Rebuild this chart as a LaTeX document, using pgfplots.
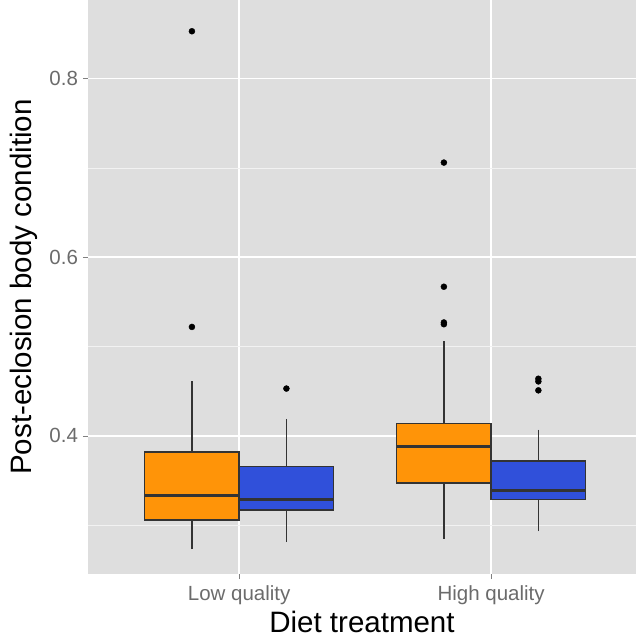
\documentclass[border=0pt]{standalone}
\usepackage{fontspec}
\setmainfont{Liberation Sans}
\usepackage{pgfplots}
\pgfplotsset{compat=1.18}
\usepgfplotslibrary{statistics}

\definecolor{panelbg}{HTML}{DEDEDE}
\definecolor{boxorange}{HTML}{FF9408}
\definecolor{boxblue}{HTML}{3050DA}
\definecolor{boxline}{HTML}{333333}
\definecolor{ticktext}{HTML}{6B6B6B}

\begin{document}
\begin{tikzpicture}
\begin{axis}[
  name=main,
  scale only axis,
  width=548pt, height=574pt,
  xmin=0.4, xmax=2.575,
  ymin=0.2454, ymax=0.888,
  axis background/.style={fill=panelbg},
  axis line style={draw=none},
  xtick={1,2}, xticklabels={Low quality, High quality},
  ytick={0.4,0.6,0.8},
  minor ytick={0.3,0.5,0.7},
  /pgf/number format/fixed,
  /pgf/number format/precision=1,
  /pgf/number format/assume math mode=true,
  tick label style={font=\fontsize{20.5}{24}\selectfont, text=ticktext},
  xticklabel style={anchor=base, yshift=-21.5pt},
  yticklabel style={xshift=-1.5pt},
  tick align=outside, tick pos=left,
  major tick length=5pt, minor tick length=0pt,
  tick style={color=gray, line width=0.8pt},
  grid=both,
  major grid style={white, line width=1.6pt},
  minor grid style={white!60!panelbg, line width=0.8pt},
  xlabel={Diet treatment},
  ylabel={Post-eclosion body condition},
  every axis x label/.style={at={([yshift=-58pt]axis description cs:0.5,0)},
    anchor=base, font=\fontsize{29.5}{34}\selectfont},
  every axis y label/.style={at={([xshift=-64pt]axis description cs:0,0.5)},
    anchor=center, rotate=90, font=\fontsize{29.5}{34}\selectfont},
  boxplot/draw direction=y,
  boxplot/box extend=0.375,
  boxplot/whisker extend=0,
  boxplot/every box/.style={draw=boxline, line width=1.5pt},
  boxplot/every whisker/.style={draw=boxline, line width=1.3pt},
  boxplot/every median/.style={draw=boxline, line width=2.9pt},
  clip=false,
]
% Low quality, orange
\addplot+[boxplot prepared={draw position=0.8125,
  lower whisker=0.273, lower quartile=0.306, median=0.333,
  upper quartile=0.382, upper whisker=0.461},
  fill=boxorange, draw=boxline, mark=*, mark size=3pt,
  mark options={fill=black, draw=black}]
  coordinates {(0,0.522) (0,0.853)};
% Low quality, blue
\addplot+[boxplot prepared={draw position=1.1875,
  lower whisker=0.281, lower quartile=0.317, median=0.329,
  upper quartile=0.366, upper whisker=0.419},
  fill=boxblue, draw=boxline, mark=*, mark size=3pt,
  mark options={fill=black, draw=black}]
  coordinates {(0,0.453)};
% High quality, orange
\addplot+[boxplot prepared={draw position=1.8125,
  lower whisker=0.285, lower quartile=0.347, median=0.388,
  upper quartile=0.414, upper whisker=0.506},
  fill=boxorange, draw=boxline, mark=*, mark size=3pt,
  mark options={fill=black, draw=black}]
  coordinates {(0,0.525) (0,0.527) (0,0.567) (0,0.706)};
% High quality, blue
\addplot+[boxplot prepared={draw position=2.1875,
  lower whisker=0.293, lower quartile=0.329, median=0.339,
  upper quartile=0.372, upper whisker=0.407},
  fill=boxblue, draw=boxline, mark=*, mark size=3pt,
  mark options={fill=black, draw=black}]
  coordinates {(0,0.451) (0,0.461) (0,0.464)};
\end{axis}
\pgfresetboundingbox
\path[use as bounding box] ([shift={(-88pt,-69pt)}]main.south west) rectangle (main.north east);
\end{tikzpicture}
\end{document}
